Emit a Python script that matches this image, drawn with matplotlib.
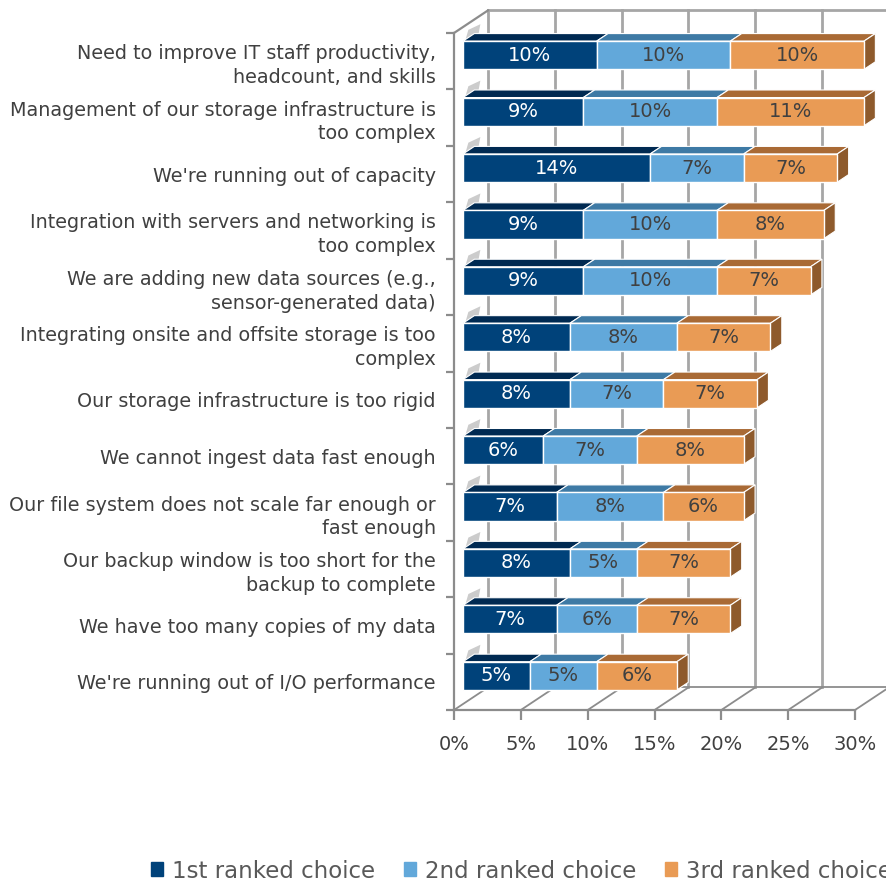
import matplotlib
matplotlib.use("Agg")
import matplotlib.pyplot as plt
from matplotlib.patches import Polygon

categories = [
    "Need to improve IT staff productivity,\nheadcount, and skills",
    "Management of our storage infrastructure is\ntoo complex",
    "We're running out of capacity",
    "Integration with servers and networking is\ntoo complex",
    "We are adding new data sources (e.g.,\nsensor-generated data)",
    "Integrating onsite and offsite storage is too\ncomplex",
    "Our storage infrastructure is too rigid",
    "We cannot ingest data fast enough",
    "Our file system does not scale far enough or\nfast enough",
    "Our backup window is too short for the\nbackup to complete",
    "We have too many copies of my data",
    "We're running out of I/O performance",
]
first = [10, 9, 14, 9, 9, 8, 8, 6, 7, 8, 7, 5]
second = [10, 10, 7, 10, 10, 8, 7, 7, 8, 5, 6, 5]
third = [10, 11, 7, 8, 7, 7, 7, 8, 6, 7, 7, 6]
series_names = ["1st ranked choice", "2nd ranked choice", "3rd ranked choice"]
x_ticks = [0, 5, 10, 15, 20, 25, 30]

front = ["#00427a", "#62a8da", "#e99b55"]
top = ["#002a52", "#3e7aa5", "#a96a35"]
side = "#8e5a2c"
txt_col = ["white", "#404040", "#404040"]
grid_col = "#a6a6a6"
axis_col = "#8c8c8c"

# oblique depth offsets (data units for full depth)
DX, DY = 2.54, 0.40
d0, d1 = 0.265, 0.6
bar_h = 0.5

fig = plt.figure(figsize=(8.86, 8.84), dpi=100)
ax = fig.add_axes([454 / 886, 174 / 884, 401 / 886, 677 / 884])
ax.set_xlim(0, 30)
ax.set_ylim(0, 12)
for s in ["top", "right"]:
    ax.spines[s].set_visible(False)
for s in ["left", "bottom"]:
    ax.spines[s].set_color(axis_col)
    ax.spines[s].set_linewidth(1.6)

# back wall, floor, left wall
n = len(categories)
for v in x_ticks:
    ax.plot([v + DX, v + DX], [DY, n + DY], color=grid_col, lw=2, zorder=1, clip_on=False)
    ax.plot([v, v + DX], [0, DY], color=axis_col, lw=1.3, zorder=1, clip_on=False)
ax.plot([DX, 30 + DX], [DY, DY], color=axis_col, lw=1.3, zorder=1, clip_on=False)
ax.plot([DX, 30 + DX], [n + DY, n + DY], color=grid_col, lw=2, zorder=1, clip_on=False)
ax.plot([0, DX], [n, n + DY], color=axis_col, lw=1.6, zorder=1, clip_on=False)

series = [first, second, third]
for i, cat in enumerate(categories):
    yc = n - i - 0.5
    yb = yc - bar_h / 2 + d0 * DY
    yt = yc + bar_h / 2 + d0 * DY
    # faint shade on left wall
    sx = d0 * DX + 0.1
    ax.add_patch(Polygon([(sx, yt - 0.05), (sx + 1.0, yt + 0.05), (sx + 1.2, yt + 0.3), (sx + 0.3, yt + 0.2)],
                         closed=True, facecolor="#cccccc", edgecolor="none", zorder=2, clip_on=False))
    left = 0
    for k in range(3):
        w = series[k][i]
        x0 = left + d0 * DX
        x1 = x0 + w
        ax.barh(yc + d0 * DY, w, left=x0, height=bar_h, color=front[k], edgecolor="white",
                linewidth=1, zorder=4, clip_on=False)
        ddx, ddy = (d1 - d0) * DX, (d1 - d0) * DY
        ax.add_patch(Polygon([(x0, yt), (x1, yt), (x1 + ddx, yt + ddy), (x0 + ddx, yt + ddy)], closed=True,
                             facecolor=top[k], edgecolor="white", lw=0.8, zorder=3, clip_on=False))
        if k == 2:
            ax.add_patch(Polygon([(x1, yb), (x1 + ddx, yb + ddy), (x1 + ddx, yt + ddy), (x1, yt)], closed=True,
                                 facecolor=side, edgecolor="white", lw=0.8, zorder=3, clip_on=False))
        ax.text(x0 + w / 2, yc + d0 * DY, f"{w}%", ha="center", va="center", fontsize=14,
                color=txt_col[k], zorder=5)
        left += w

# axes ticks
ax.set_xticks(x_ticks)
ax.set_xticklabels([f"{v}%" for v in x_ticks])
ax.tick_params(axis="x", length=7, width=1.6, color=axis_col, pad=11, labelsize=14, labelcolor="#404040")
ax.set_yticks(range(n + 1))
ax.set_yticklabels([])
ax.tick_params(axis="y", which="major", length=6, width=1.6, color=axis_col)
ax.set_yticks([n - i - 0.5 for i in range(n)], minor=True)
ax.set_yticklabels(categories, minor=True, fontsize=13.8, color="#404040", linespacing=1.31)
ax.tick_params(axis="y", which="minor", length=0, pad=13)

handles = [plt.Rectangle((0, 0), 1, 1, color=c) for c in front]
fig.legend(handles, series_names, loc="center left", bbox_to_anchor=(151 / 886, 13 / 884), ncol=3,
           frameon=False, fontsize=16.5, handlelength=0.52, handleheight=0.57, handletextpad=0.4,
           columnspacing=1.25, borderpad=0, borderaxespad=0, labelcolor="#595959")

fig.savefig("out.png", dpi=100)
